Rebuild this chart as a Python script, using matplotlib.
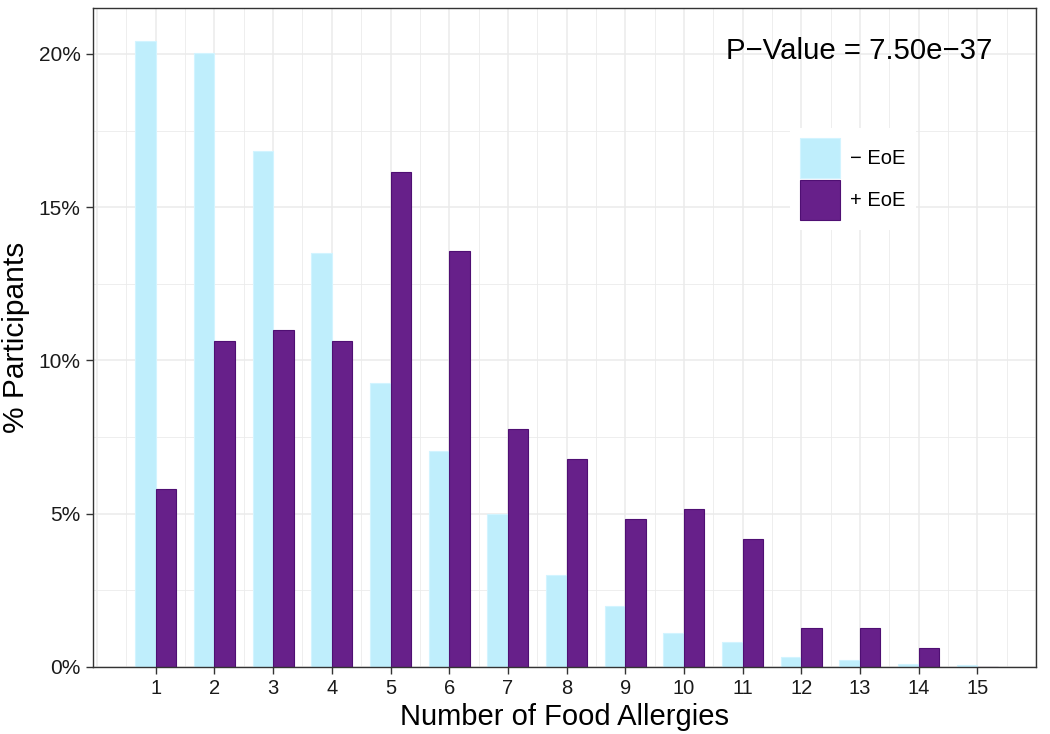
import matplotlib
matplotlib.use("Agg")
import matplotlib.pyplot as plt
import numpy as np
from matplotlib.patches import Patch

plt.rcParams['font.family'] = ['Liberation Sans', 'DejaVu Sans']

allergies = list(range(1, 16))
no_eoe = [20.42, 20.03, 16.84, 13.50, 9.25, 7.06, 4.99, 3.00, 1.99, 1.11, 0.82, 0.34, 0.22, 0.10, 0.07]
eoe = [5.81, 10.65, 10.98, 10.65, 16.16, 13.58, 7.75, 6.78, 4.84, 5.17, 4.19, 1.26, 1.26, 0.63, 0.0]
y_ticks = [0, 5, 10, 15, 20]
y_tick_labels = ["0%", "5%", "10%", "15%", "20%"]
labels = ["\u2212 EoE", "+ EoE"]
p_text = "P\u2212Value = 7.50e\u221237"

light_fill, light_edge = "#BFEEFC", "#D2F4FF"
dark_fill, dark_edge = "#67208A", "#4F0F73"

fig = plt.figure(figsize=(10.5, 7.34), dpi=100)
ax = fig.add_axes([93/1050, 67/734, 943/1050, 659/734])

x = np.array(allergies, dtype=float)
w = 0.35
ax.bar(x - w/2, no_eoe, width=w, color=light_fill, edgecolor=light_edge, linewidth=0.8, zorder=3)
ax.bar(x + w/2, eoe, width=w, color=dark_fill, edgecolor=dark_edge, linewidth=0.8, zorder=3)

ax.set_xlim(-0.07, 16.0)
ax.set_ylim(0, 21.5)

# grid
for gx in np.arange(0, 16.01, 0.5):
    ax.axvline(gx, color="#EBEBEB", lw=1.1 if gx % 1 == 0 else 0.6, zorder=0)
for gy in np.arange(0, 21.5, 2.5):
    ax.axhline(gy, color="#EBEBEB", lw=1.1 if gy % 5 == 0 else 0.6, zorder=0)

ax.set_xticks(allergies)
ax.set_xticklabels([str(a) for a in allergies], fontsize=14.5, color="#1A1A1A")
ax.set_yticks(y_ticks)
ax.set_yticklabels(y_tick_labels, fontsize=15, color="#1A1A1A")
ax.tick_params(axis="both", length=5, width=1, color="#333333", pad=4)

for s in ax.spines.values():
    s.set_color("#333333")
    s.set_linewidth(1.0)
    s.set_zorder(5)

ax.set_xlabel("Number of Food Allergies", fontsize=21, labelpad=3)
ax.set_ylabel("% Participants", fontsize=21.5, labelpad=6)

ax.text(0.813, 0.935, p_text, transform=ax.transAxes, fontsize=21.2, ha="center", va="center", zorder=6)

handles = [Patch(facecolor=light_fill, edgecolor=light_edge, linewidth=0.8),
           Patch(facecolor=dark_fill, edgecolor=dark_edge, linewidth=0.8)]
leg = ax.legend(handles, labels, loc="upper left", bbox_to_anchor=(0.739, 0.818),
                borderaxespad=0, fontsize=14.5, handlelength=2.0, handleheight=2.68,
                labelspacing=0.1, handletextpad=0.5, borderpad=0.5,
                frameon=True, fancybox=False, framealpha=1)
leg.get_frame().set_edgecolor("none")
leg.get_frame().set_facecolor("white")
leg.set_zorder(6)

fig.savefig("out.png", dpi=100)
